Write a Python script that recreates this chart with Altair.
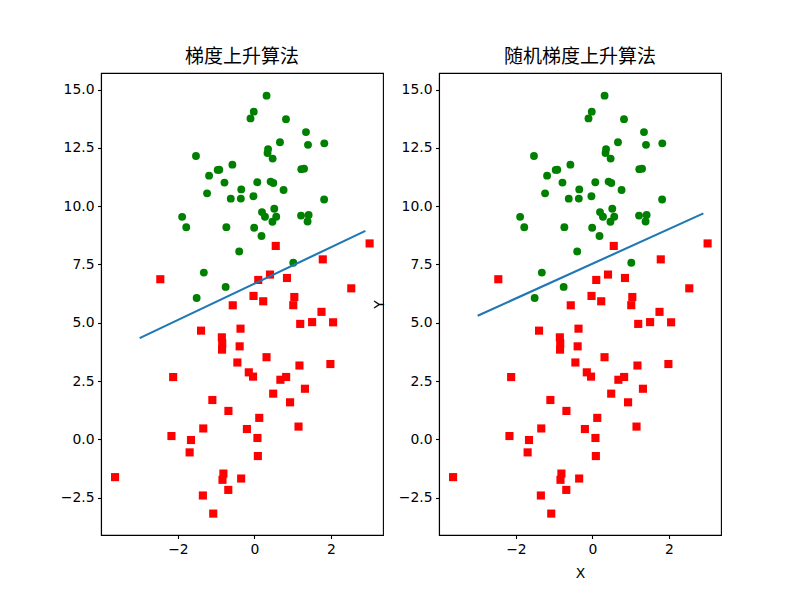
import altair as alt
import pandas as pd

# testSet points (x, y, class)
xs = [-0.017612, -1.395634, -0.752157, -1.322371, 0.423363, 0.406704, 0.667394, -2.460150, 0.569411, -0.026632,
      0.850433, 1.347183, 1.176813, -1.781871, -0.566606, 0.931635, -0.024205, -0.036453, -0.196949, 1.014459,
      1.985298, -1.693453, -0.576525, -0.346811, -2.124484, 1.217916, -0.733928, -3.642001, 0.315985, 1.416614,
      -0.386323, 0.556921, 1.224863, -1.347803, 1.196604, 0.275221, 0.470575, -1.889567, -1.527893, -1.185247,
      -0.445678, 1.042222, -0.618787, 1.152083, 0.828534, -1.237728, -0.683565, 0.229456, -0.959885, 0.492911,
      0.184992, -0.355715, -0.397822, 0.824839, 1.507278, 0.099671, -0.344008, 1.785928, -0.918801, -0.364009,
      -0.841722, 0.490426, -0.007194, 0.356107, 0.342578, -0.810823, 2.530777, 1.296683, 0.475487, -0.783277,
      0.074798, -1.337472, -0.102781, -0.147324, 0.518389, 1.015399, -1.658086, 1.319944, 2.056216, -0.851633,
      -1.510047, -1.076637, 1.821096, 3.010150, -1.099458, -0.834872, -0.846637, 1.400102, 1.752842, 0.078557,
      0.089392, 1.825662, 0.197445, 0.126117, -0.679797, 0.677983, 0.761349, -2.168791, 1.388610, 0.317029]
ys = [14.053064, 4.662541, 6.538620, 7.152853, 11.054677, 7.067335, 12.741452, 6.866805, 9.548755, 10.427743,
      6.920334, 13.175500, 3.167020, 9.097953, 5.749003, 1.589505, 6.151823, 2.690988, 0.444165, 5.754399,
      3.230619, -0.557540, 11.778922, -1.678730, 2.672471, 9.597015, 9.098687, -1.618087, 3.523953, 9.619232,
      3.989286, 8.294984, 11.587360, -2.406051, 4.951851, 9.543647, 9.332488, 9.542662, 12.150579, 11.309318,
      3.297303, 6.105155, 10.320986, 0.548467, 2.676045, 10.549033, -2.166125, 5.921938, 11.555336, 10.993324,
      8.721488, 10.325976, 8.058397, 13.730343, 5.027866, 6.835839, 10.717485, 7.718645, 11.560217, 4.747300,
      4.119083, 1.960539, 9.075792, 12.447863, 12.281162, -1.466018, 6.476801, 11.607559, 12.040035, 11.009725,
      11.023650, 0.468339, 13.763651, 2.874846, 9.887035, 7.571882, -0.027255, 2.171228, 5.019981, 4.375691,
      6.061992, -3.181888, 10.283990, 8.401766, 1.688274, -1.733869, 3.849075, 12.628781, 5.468166, 0.059736,
      -0.715300, 12.693808, 9.744638, 0.922311, 1.220530, 2.556666, 10.693862, 0.143632, 9.341997, 14.739025]
labels = [0, 1, 0, 0, 0, 1, 0, 1, 0, 0,
          1, 0, 1, 0, 1, 1, 1, 1, 1, 1,
          1, 1, 0, 1, 1, 0, 0, 1, 1, 0,
          1, 1, 0, 1, 1, 0, 0, 0, 0, 0,
          1, 1, 0, 1, 1, 0, 1, 1, 0, 0,
          0, 0, 0, 0, 1, 1, 0, 1, 0, 1,
          1, 1, 0, 0, 0, 1, 1, 0, 0, 0,
          0, 1, 0, 1, 0, 0, 1, 1, 1, 1,
          0, 1, 0, 1, 1, 1, 1, 0, 1, 1,
          1, 0, 0, 1, 1, 1, 0, 1, 0, 0]

# decision boundary endpoints
line_x = [-3.0, 2.9]
line_y_gd = [4.34, 8.94]
line_y_sgd = [5.30, 9.69]

titles = ["梯度上升算法", "随机梯度上升算法"]

pts = pd.DataFrame({"x": xs, "y": ys, "label": labels})
df0 = pts[pts.label == 0]
df1 = pts[pts.label == 1]

XDOM = [-4.01, 3.36]
YDOM = [-4.10, 15.71]
W, H = 282, 462
FONT = "DejaVu Sans"


def panel(title, line_y, show_titles):
    xaxis = alt.Axis(values=[-2, 0, 2], format="d", grid=False, tickSize=3.5, labelPadding=3.5,
                     title="X" if show_titles else None, titleX=W / 2, titleY=38,
                     titleBaseline="middle", titleFontWeight="normal", titleFontSize=13.9,
                     titleFont=FONT)
    yaxis = alt.Axis(values=[-2.5, 0, 2.5, 5, 7.5, 10, 12.5, 15], format=".1f", grid=False,
                     tickSize=3.5, labelPadding=3.5,
                     title="Y" if show_titles else None, titleX=-60, titleY=H / 2,
                     titleAlign="center", titleBaseline="middle", titleAngle=270,
                     titleFontWeight="normal", titleFontSize=13.9, titleFont=FONT)
    xs_ = alt.Scale(domain=XDOM, nice=False, zero=False)
    ys_ = alt.Scale(domain=YDOM, nice=False, zero=False)
    green = alt.Chart(df0).mark_point(shape="circle", filled=True, color="#008000", size=62, opacity=1).encode(
        x=alt.X("x:Q", scale=xs_, axis=xaxis), y=alt.Y("y:Q", scale=ys_, axis=yaxis))
    red = alt.Chart(df1).mark_point(shape="square", filled=True, color="#ff0000", size=66, opacity=1).encode(
        x=alt.X("x:Q", scale=xs_), y=alt.Y("y:Q", scale=ys_))
    ln = alt.Chart(pd.DataFrame({"x": line_x, "y": line_y})).mark_line(color="#1f77b4", strokeWidth=2.1).encode(
        x=alt.X("x:Q", scale=xs_), y=alt.Y("y:Q", scale=ys_))
    return alt.layer(green, red, ln).properties(
        width=W, height=H,
        title=alt.TitleParams(title, font="Noto Sans CJK SC", fontSize=19, fontWeight="normal",
                              anchor="middle", offset=6, color="black"))


chart = alt.hconcat(panel(titles[0], line_y_gd, False), panel(titles[1], line_y_sgd, True),
                    spacing=56, bounds="flush").properties(
    padding={"left": 59, "top": 47, "right": 0, "bottom": 0},
    autosize=alt.AutoSizeParams(type="pad"),
    background="white",
).configure_view(stroke="black", strokeWidth=1.1).configure_axis(
    domainColor="black", domainWidth=1.1, tickColor="black", tickWidth=1.1,
    labelFont=FONT, labelFontSize=13.9, labelColor="black", titleColor="black"
)

chart.save("out.html", embed_options={"renderer": "svg", "actions": False})
